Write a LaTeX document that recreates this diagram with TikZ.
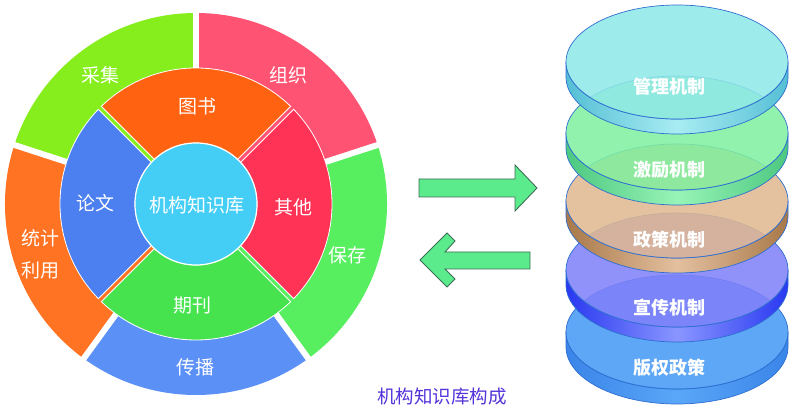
\documentclass[tikz,border=0pt]{standalone}
\usepackage{fontspec}
\newfontfamily\cjk{Noto Sans CJK SC}
\definecolor{cCaiji}{HTML}{86EE1C}
\definecolor{cZuzhi}{HTML}{FF5373}
\definecolor{cBaocun}{HTML}{57EE5F}
\definecolor{cChuanbo}{HTML}{5B90F7}
\definecolor{cTongji}{HTML}{FF7322}
\definecolor{cTushu}{HTML}{FF6312}
\definecolor{cLunwen}{HTML}{4C7FEF}
\definecolor{cQikan}{HTML}{46E34E}
\definecolor{cQita}{HTML}{FF3355}
\definecolor{cCenter}{HTML}{45CEF5}
\definecolor{cArrow}{HTML}{5CEB8C}
\definecolor{cArrowLine}{HTML}{3D6E55}
\definecolor{cCaption}{HTML}{5433DA}
\definecolor{diskline}{HTML}{2E6FD0}
\definecolor{dA}{HTML}{8FE8E8}\definecolor{dAs}{HTML}{55BFD5}\definecolor{dAm}{HTML}{A8ECF2}
\definecolor{dB}{HTML}{80F0A0}\definecolor{dBs}{HTML}{4CC880}\definecolor{dBm}{HTML}{98F4B8}
\definecolor{dC}{HTML}{E0B890}\definecolor{dCs}{HTML}{A87848}\definecolor{dCm}{HTML}{E4C0A0}
\definecolor{dD}{HTML}{8080FA}\definecolor{dDs}{HTML}{2838F0}\definecolor{dDm}{HTML}{8A96FF}
\definecolor{dE}{HTML}{4499F5}\definecolor{dEs}{HTML}{3A85E8}\definecolor{dEm}{HTML}{5AA6F8}
\tikzset{
  seglabel/.style={text=white,font=\cjk\fontsize{19}{19}\selectfont,inner sep=0pt},
  disklabel/.style={text=white,font=\cjk\bfseries\fontsize{18}{18}\selectfont,inner sep=0pt},
  caption/.style={text=cCaption,font=\cjk\fontsize{18.5}{18.5}\selectfont,inner sep=0pt},
  blockarrow/.style={fill=cArrow,draw=cArrowLine,line width=0.9pt,line join=miter},
  midseg/.style={draw=white,line width=0.8pt},
}
\newcommand{\outerseg}[3]{%
  \fill[#3] (196,211) -- ++(#1:191) arc[start angle=#1,end angle=#2,radius=191] -- cycle;}
\newcommand{\midwedge}[3]{%
  \filldraw[midseg,fill=#3] ([shift={(196,211)}]#1:136) arc[start angle=#1,end angle=#2,radius=136]
    -- ([shift={(196,211)}]#2:61) arc[start angle=#2,end angle=#1,radius=61] -- cycle;}
\newcommand{\gapstrip}[2]{%
  \draw[white,line width=5] ([shift={(196,211)}]#1:60) -- ([shift={(196,211)}]#1:136);
  \draw[#2,line width=3] ([shift={(196,211)}]#1:60) -- ([shift={(196,211)}]#1:137);}
\newcommand{\drawdisk}[5]{%
  \shadedraw[left color=#3,right color=#3,middle color=#4,draw=diskline,line width=0.7]
    (566,#1) -- (566,#1-15) arc[start angle=180,end angle=360,x radius=111,y radius=57]
    -- (788,#1) arc[start angle=360,end angle=180,x radius=111,y radius=57] -- cycle;
  \filldraw[fill=#2,fill opacity=0.86,draw=diskline,line width=0.7] (677,#1) ellipse[x radius=111,y radius=57];}
\begin{document}
\begin{tikzpicture}[x=1pt,y=1pt]
\useasboundingbox (0,0) rectangle (793,415);
\fill[white] (0,0) rectangle (793,415);
% outer ring
\outerseg{18}{90}{cZuzhi}
\outerseg{90}{162}{cCaiji}
\outerseg{162}{234}{cTongji}
\outerseg{234}{306}{cChuanbo}
\outerseg{306}{378}{cBaocun}
\foreach \a in {18,90,162,234,306}{\draw[white,line width=6] (196,211) -- ++(\a:200);}
% middle ring
\midwedge{45}{135}{cTushu}
\midwedge{135}{225}{cLunwen}
\midwedge{225}{315}{cQikan}
\midwedge{315}{405}{cQita}
\gapstrip{45}{cZuzhi}
\gapstrip{135}{cCaiji}
\gapstrip{225}{cTongji}
\gapstrip{315}{cBaocun}
% centre
\filldraw[fill=cCenter,draw=white,line width=1.2] (196,211) circle[radius=61];
% labels
\node[seglabel] (caiji) at (100,340) {采集};
\node[seglabel] (zuzhi) at (288,340) {组织};
\node[seglabel] (tushu) at (197,309) {图书};
\node[seglabel] (lunwen) at (95,212) {论文};
\node[seglabel] (center) at (197,210) {机构知识库};
\node[seglabel] (qita) at (293,208) {其他};
\node[seglabel] (tongji) at (40,177) {统计};
\node[seglabel] (liyong) at (40,145) {利用};
\node[seglabel] (baocun) at (347,160) {保存};
\node[seglabel] (qikan) at (192,110) {期刊};
\node[seglabel] (chuanbo) at (195,48) {传播};
\node[caption] (cap) at (442,18) {机构知识库构成};
% arrows
\draw[blockarrow] (419,236) -- (515,236) -- (515,250) -- (537,227) -- (515,204) -- (515,218) -- (419,218) -- cycle;
\draw[blockarrow] (530,163) -- (445,163) -- (455,174) -- (447,182) -- (420,155) -- (447,128) -- (455,136) -- (445,146) -- (530,146) -- cycle;
% disks
\drawdisk{83}{dE}{dEs}{dEm}{}
\drawdisk{145}{dD}{dDs}{dDm}{}
\drawdisk{214}{dC}{dCs}{dCm}{}
\drawdisk{282}{dB}{dBs}{dBm}{}
\drawdisk{353}{dA}{dAs}{dAm}{}
\node[disklabel] (d1) at (669,328) {管理机制};
\node[disklabel] (d2) at (669,245) {激励机制};
\node[disklabel] (d3) at (669,175) {政策机制};
\node[disklabel] (d4) at (669,107) {宣传机制};
\node[disklabel] (d5) at (669,47) {版权政策};
\end{tikzpicture}
\end{document}
